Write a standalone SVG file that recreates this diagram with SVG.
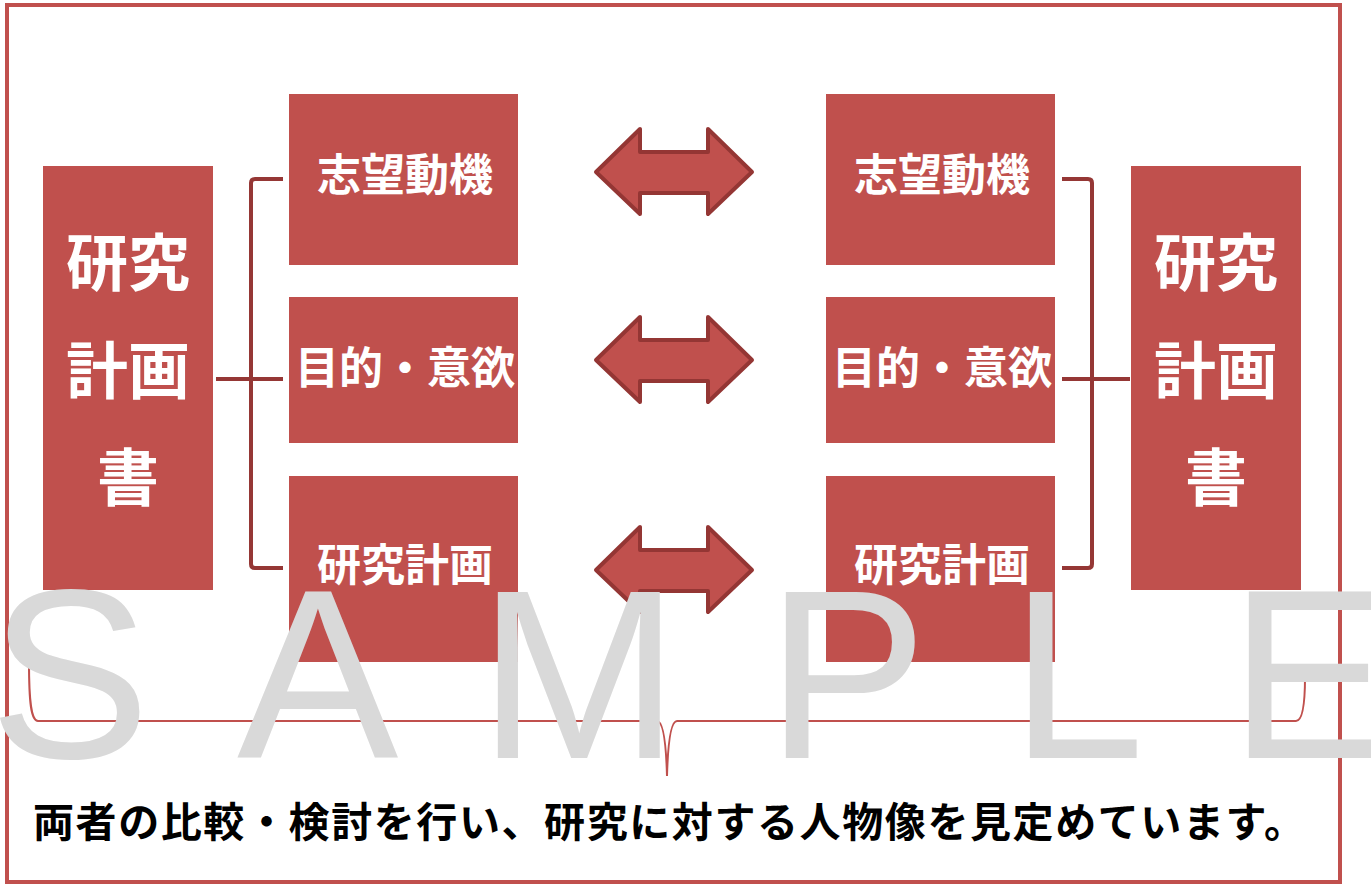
<svg xmlns="http://www.w3.org/2000/svg" xmlns:xlink="http://www.w3.org/1999/xlink" width="1371" height="885" viewBox="0 0 1371 885">
  <style>
    .box { fill: #c0504d; }
    .lbl { font-family: "Noto Sans CJK JP", "Noto Sans", sans-serif; font-weight: bold; fill: #ffffff; text-anchor: middle; }
    .small { font-size: 44px; }
    .big { font-size: 62px; }
    .conn { fill: none; stroke: #953735; stroke-width: 4; stroke-linejoin: round; }
    .dbl { fill: #c0504d; stroke: #943634; stroke-width: 4; stroke-linejoin: round; }
    .brace { fill: none; stroke: #c0504d; stroke-width: 2; }
    .caption { font-family: "Noto Sans CJK JP", "Noto Sans", sans-serif; font-weight: bold; font-size: 41px; fill: #000000; }
    .wm { font-family: "Liberation Sans", Arial, sans-serif; font-size: 242px; fill: #d9d9d9; }
  </style>
  <defs>
    <polygon id="dblArrow" points="596,0 640,-43 640,-20 708,-20 708,-43 752,0 708,42 708,21 640,21 640,42"/>
  </defs>
  <rect x="0" y="0" width="1371" height="885" fill="#ffffff"/>
  <rect id="frame" x="7" y="5" width="1333" height="877" fill="none" stroke="#c0504d" stroke-width="4"/>

  <g id="left-main">
    <rect class="box" x="43" y="166" width="170" height="424"/>
    <text class="lbl big" x="128" y="286">研究</text>
    <text class="lbl big" x="128" y="394">計画</text>
    <text class="lbl big" x="128" y="501">書</text>
  </g>
  <g id="left-1">
    <rect class="box" x="289" y="94" width="229" height="171"/>
    <text class="lbl small" x="405" y="191">志望動機</text>
  </g>
  <g id="left-2">
    <rect class="box" x="289" y="297" width="229" height="146"/>
    <text class="lbl small" x="405" y="384">目的・意欲</text>
  </g>
  <g id="left-3">
    <rect class="box" x="289" y="476" width="229" height="186"/>
    <text class="lbl small" x="405" y="581">研究計画</text>
  </g>
  <g id="right-1">
    <rect class="box" x="826" y="94" width="229" height="171"/>
    <text class="lbl small" x="942" y="191">志望動機</text>
  </g>
  <g id="right-2">
    <rect class="box" x="826" y="297" width="229" height="146"/>
    <text class="lbl small" x="942" y="384">目的・意欲</text>
  </g>
  <g id="right-3">
    <rect class="box" x="826" y="476" width="229" height="186"/>
    <text class="lbl small" x="942" y="581">研究計画</text>
  </g>
  <g id="right-main">
    <rect class="box" x="1131" y="166" width="170" height="424"/>
    <text class="lbl big" x="1216" y="286">研究</text>
    <text class="lbl big" x="1216" y="394">計画</text>
    <text class="lbl big" x="1216" y="501">書</text>
  </g>

  <g id="connectors">
    <path class="conn" d="M283,179 L255,179 Q251,179 251,183 L251,564 Q251,568 255,568 L283,568"/>
    <path class="conn" d="M216,379 L283,379"/>
    <path class="conn" d="M1062,179 L1088,179 Q1092,179 1092,183 L1092,564 Q1092,568 1088,568 L1062,568"/>
    <path class="conn" d="M1062,379 L1130,379"/>
    <use xlink:href="#dblArrow" href="#dblArrow" class="dbl" transform="translate(0,172)"/>
    <use xlink:href="#dblArrow" href="#dblArrow" class="dbl" transform="translate(0,360)"/>
    <use xlink:href="#dblArrow" href="#dblArrow" class="dbl" transform="translate(0,570)"/>
  </g>

  <g id="brace">
    <path class="brace" d="M29,663 C29,702 31,721 38,721 L657,721 C663,721 666,740 667,776 C668,740 671,721 677,721 L1296,721 C1303,721 1305,702 1305,677"/>
  </g>

  <g id="caption">
    <text class="caption" x="33" y="837" textLength="1272" lengthAdjust="spacing">両者の比較・検討を行い、研究に対する人物像を見定めています。</text>
  </g>

  <text class="wm" x="-11 237 478 766 1010 1229" y="758">SAMPLE</text>
</svg>
